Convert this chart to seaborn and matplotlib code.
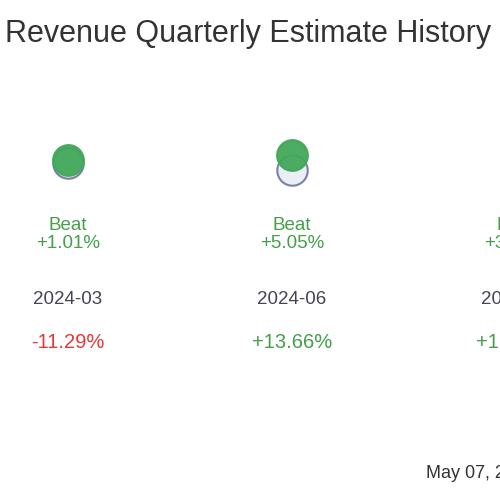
import matplotlib
matplotlib.use("Agg")
import matplotlib.pyplot as plt
import seaborn as sns
import pandas as pd

quarters = ["2024-03", "2024-06", "2024-09"]
estimate = [100.0, 97.7, 99.0]
actual = [101.01, 102.64, 102.5]
surprise = ["+1.01%", "+5.05%", "+3.54%"]
yoy = ["-11.29%", "+13.66%", "+12.40%"]
yoy_color = ["#e53935", "#43a047", "#43a047"]

sns.set_theme(style="white")
plt.rcParams['font.family'] = ['Liberation Sans', 'DejaVu Sans']
fig = plt.figure(figsize=(5, 5), dpi=100)
fig.text(0.01, 0.932, "Revenue Quarterly Estimate History", fontsize=22, color="#333333", va="center")
fig.text(0.853, 0.053, "May 07, 2025", fontsize=13, color="#333333", va="center")

x = list(range(len(quarters)))
left, right = -68/224, (500-68)/224
ax = fig.add_axes([0, 0.56, 1, 0.24])
df = pd.DataFrame({"x": x, "est": estimate, "act": actual})
sns.scatterplot(data=df, x="x", y="est", ax=ax, s=480, color="#eceef5", edgecolor="#7a80a8", linewidth=1.5, zorder=2)
sns.scatterplot(data=df, x="x", y="act", ax=ax, s=480, color="#43a85a", edgecolor="#43a85a", alpha=0.95, zorder=3)
ax.set_xlim(left, right); ax.set_ylim(81, 121)
ax.axis("off")

tx = fig.add_axes([0, 0, 1, 1]); tx.axis("off")
tx.set_xlim(left, right); tx.set_ylim(500, 0)
for i in x:
    tx.text(i, 226, "Beat", ha="center", va="center", color="#43a047", fontsize=13.5)
    tx.text(i, 244, surprise[i], ha="center", va="center", color="#43a047", fontsize=13.5)
    tx.text(i, 300, quarters[i], ha="center", va="center", color="#444455", fontsize=13.5)
    tx.text(i, 343, yoy[i], ha="center", va="center", color=yoy_color[i], fontsize=14.5)
fig.savefig("out.png", dpi=100)
